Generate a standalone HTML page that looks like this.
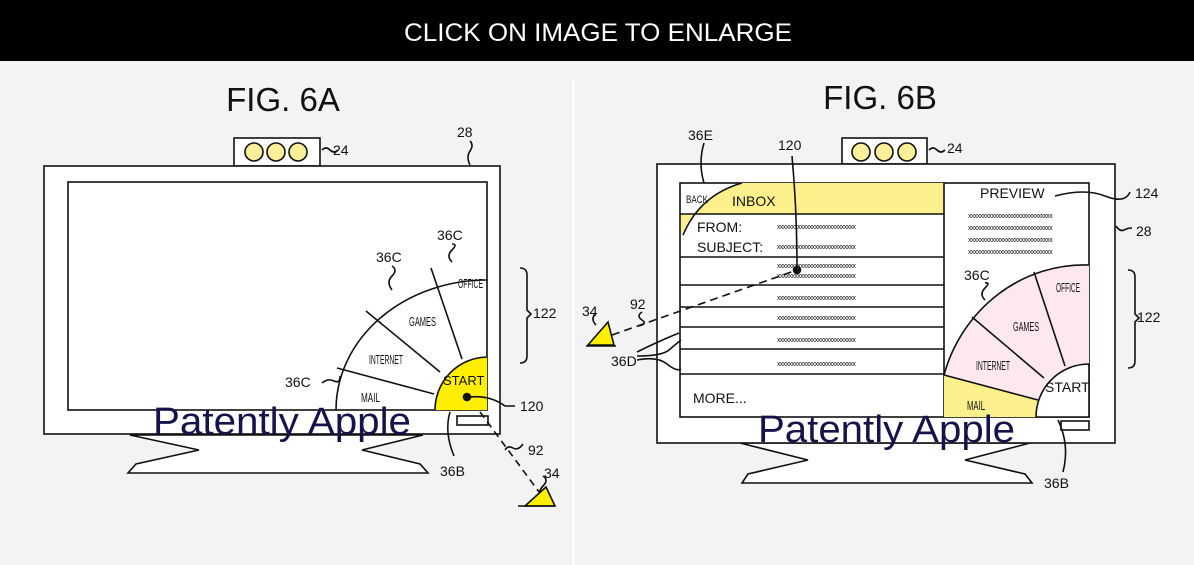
<!DOCTYPE html>
<html><head><meta charset="utf-8"><style>
html,body{margin:0;padding:0;background:#f3f3f3;}
svg{display:block;}
text{font-family:"Liberation Sans",sans-serif;fill:#111;}
.n{font-size:14px;}
.s{font-size:13px;}
.x{font-size:7px;letter-spacing:-0.6px;}
.wm{font-size:38px;fill:#14144a;}
</style></head><body>
<svg width="1194" height="565" viewBox="0 0 1194 565" xmlns="http://www.w3.org/2000/svg">
<rect width="1194" height="565" fill="#f3f3f3"/>
<rect width="1194" height="61" fill="#000"/>
<text x="404" y="41" textLength="388" lengthAdjust="spacingAndGlyphs" style="font-size:25px;fill:#fff">CLICK ON IMAGE TO ENLARGE</text>
<line x1="573.5" y1="80" x2="573.5" y2="565" stroke="#fff" stroke-width="2"/>

<text x="283" y="111" text-anchor="middle" style="font-size:33px">FIG. 6A</text>
<text x="880" y="109" text-anchor="middle" style="font-size:33px">FIG. 6B</text>

<g fill="none" stroke="#111" stroke-width="1.6">
<rect x="234" y="138" width="86" height="28" fill="#fff"/>
<circle cx="254" cy="152" r="9" fill="#fbf09a"/><circle cx="276" cy="152" r="9" fill="#fbf09a"/><circle cx="298" cy="152" r="9" fill="#fbf09a"/>
<path d="M130 435 L199 450 L136 464 L128 473 L428 473 L420 464 L362 450 L423 435 Z" fill="#fff"/>
<rect x="44" y="166" width="456" height="268" fill="#fff"/>
<rect x="68" y="182" width="419" height="228" fill="#fff"/>
<path d="M336 410 A151 130 0 0 1 487 280" />
<path d="M435 410 A53 53 0 0 1 487 357 L487 410 Z" fill="#ffee00" stroke="none"/>
<path d="M435 410 A53 53 0 0 1 487 357"/>
<line x1="462" y1="359" x2="431" y2="268"/>
<line x1="440" y1="372" x2="366" y2="311"/>
<line x1="434" y1="394" x2="337" y2="368"/>
<rect x="457" y="416" width="31" height="9" fill="#fff"/>
<circle cx="467" cy="397" r="3.5" fill="#111"/>
<path d="M470 397 Q490 395 505 406 L515 406"/>
<path d="M480 412 L542 496" stroke-dasharray="7 5"/>
<path d="M520 268 Q527 268 527 275 L527 310 L531 314 L527 318 L527 356 Q527 363 520 363"/>
<path d="M322 150 q4 -4 8 0 t8 0"/>
<path d="M470 165 q-4 -8 0 -14 t0 -10"/>
<path d="M452 262 q-6 -6 0 -12 t0 -6"/>
<path d="M392 290 q-6 -8 0 -14 t0 -10"/>
<path d="M322 383 q6 -5 12 -2 t6 -5"/>
<path d="M450 412 q-6 20 4 44"/>
<path d="M505 450 q3 -5 8 -2 t10 -4"/>
<path d="M541 500 q-4 -8 2 -14 t0 -10"/>
<path d="M525 506 L546 487 L555 506 Z" fill="#ffee00"/>
<line x1="518" y1="506" x2="555" y2="506"/>

<rect x="842" y="138" width="85" height="26" fill="#fff"/>
<circle cx="861" cy="152" r="9" fill="#fbf09a"/><circle cx="884" cy="152" r="9" fill="#fbf09a"/><circle cx="907" cy="152" r="9" fill="#fbf09a"/>
<path d="M740 443 L808 460 L748 474 L742 483 L1032 483 L1025 474 L965 460 L1030 443 Z" fill="#fff"/>
<rect x="657" y="164" width="458" height="279" fill="#fff"/>
<rect x="680" y="183" width="409" height="234" fill="#fff"/>
<path d="M742 183 L944 183 L944 214 L681 214 L681 235 Q700 195 742 183 Z" fill="#fbf08c" stroke="none"/>
<path d="M683 235 Q700 195 742 183"/>
<line x1="944" y1="183" x2="944" y2="417"/>
<line x1="680" y1="214" x2="944" y2="214"/>
<line x1="680" y1="257" x2="944" y2="257"/>
<line x1="680" y1="285" x2="944" y2="285"/>
<line x1="680" y1="307" x2="944" y2="307"/>
<line x1="680" y1="327" x2="944" y2="327"/>
<line x1="680" y1="349" x2="944" y2="349"/>
<line x1="680" y1="374" x2="944" y2="374"/>
<path d="M944 375 A146 152 0 0 1 1089 265 L1089 417 L944 417 Z" fill="#fde8ee" stroke="none"/>
<path d="M944 375 L1038 400 L1036 417 L944 417 Z" fill="#fbf08c" stroke="none"/>
<path d="M944 375 A146 152 0 0 1 1089 265"/>
<path d="M1036 417 A53 53 0 0 1 1089 364 L1089 417 Z" fill="#fff"/>
<line x1="1034" y1="272" x2="1065" y2="366"/>
<line x1="972" y1="317" x2="1044" y2="378"/>
<line x1="944" y1="375" x2="1038" y2="400"/>
<rect x="1061" y="421" width="28" height="9" fill="#fff"/>
<circle cx="797" cy="270" r="3.5" fill="#111"/>
<path d="M612 335 L797 270" stroke-dasharray="8 5"/>
<path d="M792 156 Q797 210 797 268"/>
<path d="M704 143 q-6 20 0 40"/>
<path d="M1055 196 q30 -8 50 0 t25 -4"/>
<path d="M1116 226 q4 6 8 4 t8 -2"/>
<path d="M1128 270 Q1135 270 1135 277 L1135 314 L1139 318 L1135 322 L1135 361 Q1135 368 1128 368"/>
<path d="M929 150 q4 -4 8 0 t8 0"/>
<path d="M985 300 q-6 -6 0 -12 t0 -5"/>
<path d="M1058 420 q12 25 5 52"/>
<path d="M642 312 q-6 4 0 8 t-4 6"/>
<path d="M596 325 q-6 -6 0 -12"/>
<path d="M637 352 q20 -10 42 -19"/>
<path d="M637 356 q25 0 32 -6 t12 -10"/>
<path d="M637 360 q20 -4 30 4 t14 5"/>
<path d="M588 345 L608 322 L614 345 Z" fill="#ffee00"/>
<line x1="586" y1="346" x2="616" y2="346"/>
</g>
<g>
<text class="s" x="458" y="288" textLength="25" lengthAdjust="spacingAndGlyphs">OFFICE</text>
<text class="s" x="409" y="326" textLength="27" lengthAdjust="spacingAndGlyphs">GAMES</text>
<text class="s" x="369" y="364" textLength="34" lengthAdjust="spacingAndGlyphs">INTERNET</text>
<text class="s" x="361" y="402" textLength="19" lengthAdjust="spacingAndGlyphs">MAIL</text>
<text class="n" x="443" y="385" style="font-size:13px">START</text>
<text class="n" x="333" y="155">24</text>
<text class="n" x="457" y="137">28</text>
<text class="n" x="437" y="240">36C</text>
<text class="n" x="376" y="262">36C</text>
<text class="n" x="285" y="387">36C</text>
<text class="n" x="533" y="318">122</text>
<text class="n" x="520" y="411">120</text>
<text class="n" x="528" y="455">92</text>
<text class="n" x="440" y="476">36B</text>
<text class="n" x="544" y="478">34</text>
<text class="wm" x="153" y="434" textLength="258" lengthAdjust="spacingAndGlyphs">Patently Apple</text>

<text class="s" x="686" y="203" textLength="22" lengthAdjust="spacingAndGlyphs" style="font-size:11px">BACK</text>
<text class="n" x="732" y="206">INBOX</text>
<text class="n" x="697" y="232">FROM:</text>
<text class="n" x="697" y="252">SUBJECT:</text>
<text class="x" x="777" y="229">xxxxxxxxxxxxxxxxxxxxxxxxxxx</text>
<text class="x" x="777" y="249">xxxxxxxxxxxxxxxxxxxxxxxxxxx</text>
<text class="x" x="777" y="268">xxxxxxxxxxxxxxxxxxxxxxxxxxx</text>
<text class="x" x="777" y="278">xxxxxxxxxxxxxxxxxxxxxxxxxxx</text>
<text class="x" x="777" y="300">xxxxxxxxxxxxxxxxxxxxxxxxxxx</text>
<text class="x" x="777" y="320">xxxxxxxxxxxxxxxxxxxxxxxxxxx</text>
<text class="x" x="777" y="342">xxxxxxxxxxxxxxxxxxxxxxxxxxx</text>
<text class="x" x="777" y="366">xxxxxxxxxxxxxxxxxxxxxxxxxxx</text>
<text class="n" x="693" y="403">MORE...</text>
<text class="n" x="980" y="198">PREVIEW</text>
<text class="x" x="968" y="218">xxxxxxxxxxxxxxxxxxxxxxxxxxxxx</text>
<text class="x" x="968" y="230">xxxxxxxxxxxxxxxxxxxxxxxxxxxxx</text>
<text class="x" x="968" y="242">xxxxxxxxxxxxxxxxxxxxxxxxxxxxx</text>
<text class="x" x="968" y="254">xxxxxxxxxxxxxxxxxxxxxxxxxxxxx</text>
<text class="s" x="1056" y="292" textLength="24" lengthAdjust="spacingAndGlyphs">OFFICE</text>
<text class="s" x="1013" y="331" textLength="26" lengthAdjust="spacingAndGlyphs">GAMES</text>
<text class="s" x="976" y="370" textLength="34" lengthAdjust="spacingAndGlyphs">INTERNET</text>
<text class="s" x="967" y="410" textLength="18" lengthAdjust="spacingAndGlyphs">MAIL</text>
<text class="n" x="1045" y="392">START</text>
<text class="n" x="964" y="280">36C</text>
<text class="n" x="947" y="153">24</text>
<text class="n" x="1135" y="198">124</text>
<text class="n" x="1136" y="236">28</text>
<text class="n" x="1137" y="322">122</text>
<text class="n" x="1044" y="488">36B</text>
<text class="n" x="688" y="140">36E</text>
<text class="n" x="778" y="150">120</text>
<text class="n" x="582" y="316">34</text>
<text class="n" x="630" y="309">92</text>
<text class="n" x="611" y="366">36D</text>
<text class="wm" x="758" y="442" textLength="257" lengthAdjust="spacingAndGlyphs">Patently Apple</text>
</g>
</svg>
</body></html>
